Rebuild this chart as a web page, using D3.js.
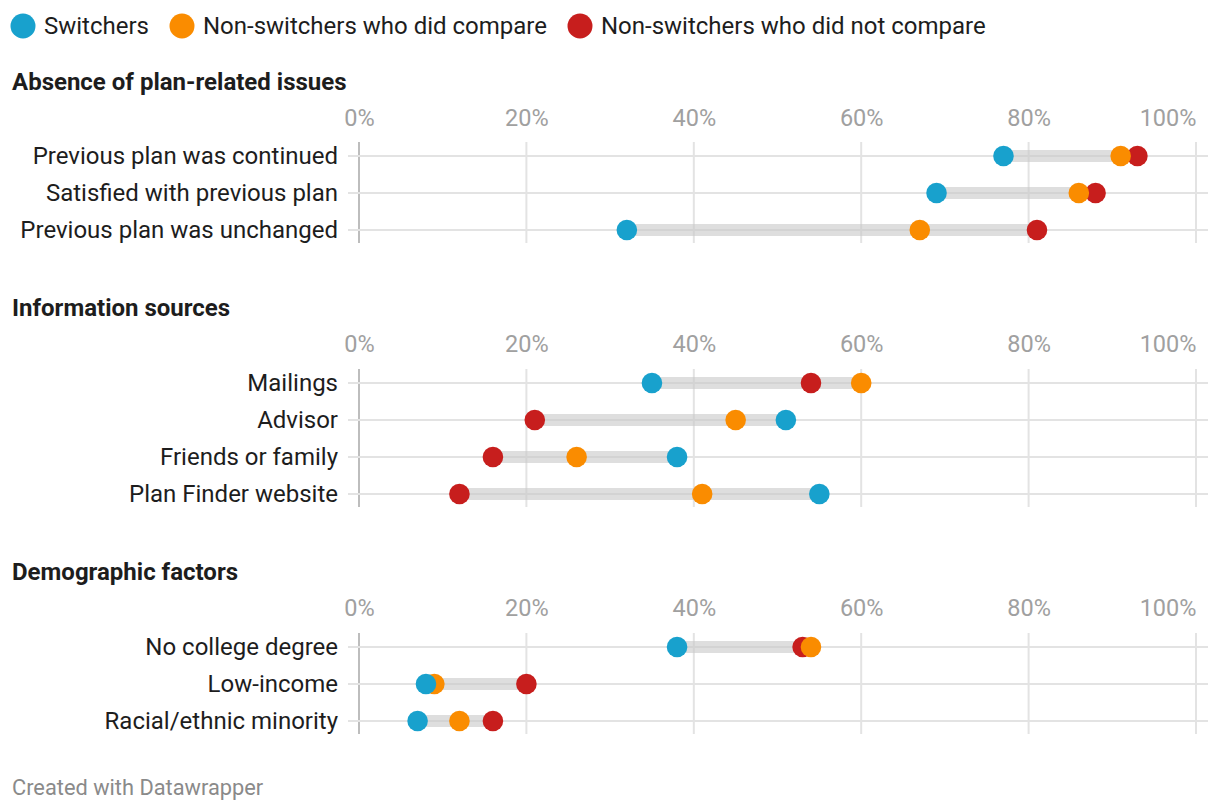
<!DOCTYPE html>
<html><head><meta charset="utf-8">
<script src="https://cdn.jsdelivr.net/npm/d3@7"></script>
<style>
html,body{margin:0;padding:0;background:#fff;}
svg{font-family:Roboto,"Noto Sans",sans-serif;}
</style></head>
<body><svg id="c" width="1220" height="812"></svg>
<script>
const seriesNames = ["Switchers","Non-switchers who did compare","Non-switchers who did not compare"];
const seriesColors = ["#18a1cd","#fa8c00","#c71e1d"];
const sectionTitles = ["Absence of plan-related issues","Information sources","Demographic factors"];
const sec1Cats = ["Previous plan was continued","Satisfied with previous plan","Previous plan was unchanged"];
const sec1Switchers = [77,69,32];
const sec1Compare = [91,86,67];
const sec1NoCompare = [93,88,81];
const sec2Cats = ["Mailings","Advisor","Friends or family","Plan Finder website"];
const sec2Switchers = [35,51,38,55];
const sec2Compare = [60,45,26,41];
const sec2NoCompare = [54,21,16,12];
const sec3Cats = ["No college degree","Low-income","Racial/ethnic minority"];
const sec3Switchers = [38,8,7];
const sec3Compare = [54,9,12];
const sec3NoCompare = [53,20,16];
const tickValues = [0,20,40,60,80,100];
const footer = "Created with Datawrapper";

const sections = [
  {title:sectionTitles[0], cats:sec1Cats, vals:[sec1Switchers,sec1Compare,sec1NoCompare], top:82},
  {title:sectionTitles[1], cats:sec2Cats, vals:[sec2Switchers,sec2Compare,sec2NoCompare], top:308},
  {title:sectionTitles[2], cats:sec3Cats, vals:[sec3Switchers,sec3Compare,sec3NoCompare], top:572}
];

const svg = d3.select("#c");
const x = d3.scaleLinear().domain([0,100]).range([359,1196]);

// legend
const legX = [23, 182, 580];
seriesNames.forEach((n,i)=>{
  const g = svg.append("g");
  g.append("circle").attr("cx",legX[i]).attr("cy",26).attr("r",12.5).attr("fill",seriesColors[i]);
  g.append("text").attr("x",legX[i]+21).attr("y",26).attr("dy","0.35em")
    .attr("font-size",24).attr("fill","#1d1d1d").text(n);
});

const rowGap = 37;
sections.forEach((s,si)=>{
  svg.append("text").attr("x",12).attr("y",s.top).attr("dy","0.35em")
    .attr("font-size",24).attr("font-weight",700).attr("fill","#1d1d1d").text(s.title);
  const tickY = s.top+39;
  const firstRow = s.top+74+(si>0?1:0);
  const n = s.cats.length;
  const lastRow = firstRow + (n-1)*rowGap;
  const y = d3.scalePoint().domain(s.cats).range([firstRow,lastRow]);
  // ticks
  const axis = d3.axisTop(x).tickValues(tickValues).tickFormat(d=>d+"%").tickSize(0);
  const ag = svg.append("g").attr("transform",`translate(0,${tickY})`).call(axis);
  ag.select(".domain").remove();
  ag.selectAll("text").attr("font-size",23.5).attr("fill","#a0a0a0")
    .attr("font-family","Roboto,sans-serif").attr("dy","0.35em")
    .attr("text-anchor",d=>d===100?"end":"middle");
  // vertical grid
  svg.append("g").selectAll("line").data(tickValues).join("line")
    .attr("x1",d=>x(d)).attr("x2",d=>x(d)).attr("y1",firstRow-14).attr("y2",lastRow+13)
    .attr("stroke",d=>d===0?"#bdbdbd":"#e3e3e3").attr("stroke-width",2);
  // horizontal row lines
  svg.append("g").selectAll("line").data(s.cats).join("line")
    .attr("x1",348).attr("x2",1208).attr("y1",d=>y(d)).attr("y2",d=>y(d))
    .attr("stroke","#e3e3e3").attr("stroke-width",2);
  // labels
  svg.append("g").selectAll("text").data(s.cats).join("text")
    .attr("x",338).attr("y",d=>y(d)).attr("dy","0.35em").attr("text-anchor","end")
    .attr("font-size",24).attr("fill","#1d1d1d").text(d=>d);
  // range bars
  svg.append("g").selectAll("line").data(s.cats).join("line")
    .attr("x1",(d,i)=>x(d3.min(s.vals,v=>v[i]))).attr("x2",(d,i)=>x(d3.max(s.vals,v=>v[i])))
    .attr("y1",d=>y(d)).attr("y2",d=>y(d))
    .attr("stroke","#c8c8c8").attr("stroke-opacity",0.6).attr("stroke-width",12);
  // dots: red, orange, blue order
  [2,1,0].forEach(k=>{
    svg.append("g").selectAll("circle").data(s.cats).join("circle")
      .attr("cx",(d,i)=>x(s.vals[k][i])).attr("cy",d=>y(d)).attr("r",10.3)
      .attr("fill",seriesColors[k]);
  });
});

svg.append("text").attr("x",12).attr("y",787).attr("dy","0.35em")
  .attr("font-size",21.8).attr("fill","#8a8a8a").text(footer);
</script></body></html>
